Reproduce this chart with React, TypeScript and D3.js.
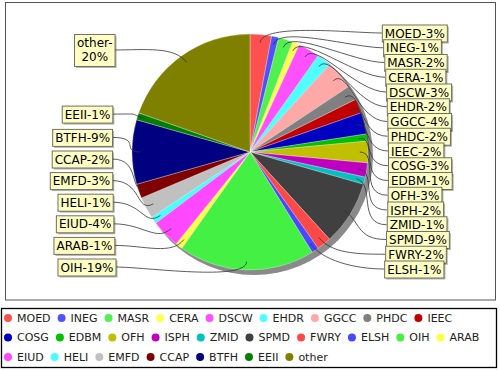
import React, { useEffect, useRef } from 'react';
import * as d3 from 'd3';

const names = ['MOED', 'INEG', 'MASR', 'CERA', 'DSCW', 'EHDR', 'GGCC', 'PHDC', 'IEEC', 'COSG', 'EDBM', 'OFH', 'ISPH', 'ZMID', 'SPMD', 'FWRY', 'ELSH', 'OIH', 'ARAB', 'EIUD', 'HELI', 'EMFD', 'CCAP', 'BTFH', 'EEII', 'other'];
const values = [3, 1, 2, 1, 3, 2, 4, 2, 2, 3, 1, 3, 2, 1, 9, 2, 1, 19, 1, 4, 1, 3, 2, 9, 1, 20];
const colors = ['#ff5050', '#5050ff', '#50f050', '#ffff50', '#ff50ff', '#50ffff', '#ffa8a8', '#808080', '#c00000', '#0000c0', '#00c000', '#c0c000', '#c000c0', '#00c0c0', '#404040', '#ff4848', '#4848ff', '#44f044', '#ffff48', '#ff48ff', '#48ffff', '#c0c0c0', '#800000', '#000080', '#008000', '#808000'];

const FONT = 'DejaVu Sans, sans-serif';

export default function App() {
  const svgRef = useRef<SVGSVGElement>(null);

  useEffect(() => {
    if (!svgRef.current) return;
    const svg = d3.select(svgRef.current);
    svg.selectAll('*').remove();

    const cx = 250, cy = 152, R = 118;

    // outer chart frame
    svg.append('rect')
      .attr('x', 5.5).attr('y', 2.5).attr('width', 490).attr('height', 297.5)
      .attr('fill', '#fff').attr('stroke', '#555').attr('stroke-width', 1);

    const arcs = d3.pie<number>().sort(null).value(d => d)(values);
    const arc = d3.arc<d3.PieArcDatum<number>>().innerRadius(0).outerRadius(R);

    // shadow
    svg.append('circle')
      .attr('cx', cx + 4).attr('cy', cy + 4).attr('r', R + 1)
      .attr('fill', '#8a8a8a');

    const g = svg.append('g').attr('transform', `translate(${cx},${cy})`);
    g.selectAll('path.slice')
      .data(arcs)
      .enter().append('path')
      .attr('class', 'slice')
      .attr('d', arc)
      .attr('fill', (_, i) => colors[i])
      .attr('stroke', 'rgba(255,255,255,0.45)')
      .attr('stroke-width', 0.7);

    // label layout
    const mid = (a: d3.PieArcDatum<number>) => (a.startAngle + a.endAngle) / 2;
    const right = arcs.map((a, i) => i).filter(i => mid(arcs[i]) < Math.PI);
    const left = arcs.map((a, i) => i).filter(i => mid(arcs[i]) >= Math.PI);

    const yc: number[] = [];
    const labelR = 125;
    let prev = -Infinity;
    right.forEach(i => {
      const want = cy - labelR * Math.cos(mid(arcs[i]));
      const y = Math.max(want, prev + 14.75, 33);
      yc[i] = y;
      prev = y;
    });
    // left side: stack from the bottom upwards
    prev = Infinity;
    left.forEach(i => {
      const want = cy - labelR * Math.cos(mid(arcs[i]));
      const y = Math.min(want, prev - 21.6, 267);
      yc[i] = y;
      prev = y;
    });

    const linkG = svg.append('g');
    const boxG = svg.append('g');
    const drawOrder = [...right, ...[...left].reverse()];

    drawOrder.forEach(i => {
      const a = mid(arcs[i]);
      const dx = Math.sin(a), dy = -Math.cos(a);
      const ax = cx + 0.93 * R * dx, ay = cy + 0.93 * R * dy;
      const isRight = a < Math.PI;
      const text = `${names[i]}-${values[i]}%`;
      const lines = text.length > 8 ? [`${names[i]}-`, `${values[i]}%`] : [text];

      const tg = boxG.append('g');
      const shadow = tg.append('rect');
      const box = tg.append('rect');
      const lh = 14;
      const h = lines.length === 1 ? 17 : 32;
      const texts = lines.map(s => tg.append('text')
        .attr('font-family', FONT).attr('font-size', 12).attr('fill', '#000')
        .text(s));
      const w = Math.max(...texts.map(t => (t.node() as SVGTextElement).getComputedTextLength())) + 5;

      const t = (yc[i] - 150) / 125;
      let bx: number, ex: number;
      if (isRight) {
        bx = 388 - 6 * ((yc[i] - 165) / 130) ** 2;
        ex = bx;
      } else {
        const rx = 112 + 4 * t * t;
        bx = rx - w;
        ex = rx;
      }
      const by = yc[i] - h / 2;
      shadow.attr('x', bx + 2).attr('y', by + 2).attr('width', w).attr('height', h).attr('fill', 'rgba(0,0,0,0.3)');
      box.attr('x', bx + 0.5).attr('y', by + 0.5).attr('width', w).attr('height', h)
        .attr('fill', '#ffffc4').attr('stroke', '#707060').attr('stroke-width', 1);
      texts.forEach((tx, k) => {
        if (lines.length === 1) {
          tx.attr('x', bx + 3).attr('y', by + 13);
        } else {
          tx.attr('x', bx + w / 2 + 0.5).attr('text-anchor', 'middle').attr('y', by + 13 + k * lh);
        }
      });

      const k = 20;
      const p = d3.path();
      p.moveTo(ax, ay);
      p.bezierCurveTo(ax + dx * k, ay + dy * k, isRight ? ex - 30 : ex + 30, yc[i], ex, yc[i]);
      linkG.append('path')
        .attr('d', p.toString())
        .attr('fill', 'none')
        .attr('stroke', '#333')
        .attr('stroke-width', 0.8);
    });

    // legend
    svg.append('rect')
      .attr('x', 1.5).attr('y', 308.5).attr('width', 495).attr('height', 59)
      .attr('fill', '#fff').attr('stroke', '#000').attr('stroke-width', 1.3);

    const rowsY = [318, 337.5, 357];
    let lx = 8, row = 0;
    names.forEach((n, i) => {
      const item = svg.append('g');
      const label = item.append('text')
        .attr('font-family', FONT).attr('font-size', 11).attr('fill', '#222')
        .attr('dy', '0.35em')
        .text(n);
      const tw = (label.node() as SVGTextElement).getComputedTextLength();
      if (lx + 9 + tw > 494) {
        row += 1;
        lx = 8;
      }
      item.append('circle')
        .attr('cx', lx).attr('cy', rowsY[row]).attr('r', 4)
        .attr('fill', colors[i]);
      label.attr('x', lx + 9).attr('y', rowsY[row]);
      lx += 9 + tw + 11;
    });
  }, []);

  return (
    <svg
      ref={svgRef}
      width={500}
      height={370}
      style={{ position: 'absolute', left: 0, top: 0, background: '#fff' }}
    />
  );
}
